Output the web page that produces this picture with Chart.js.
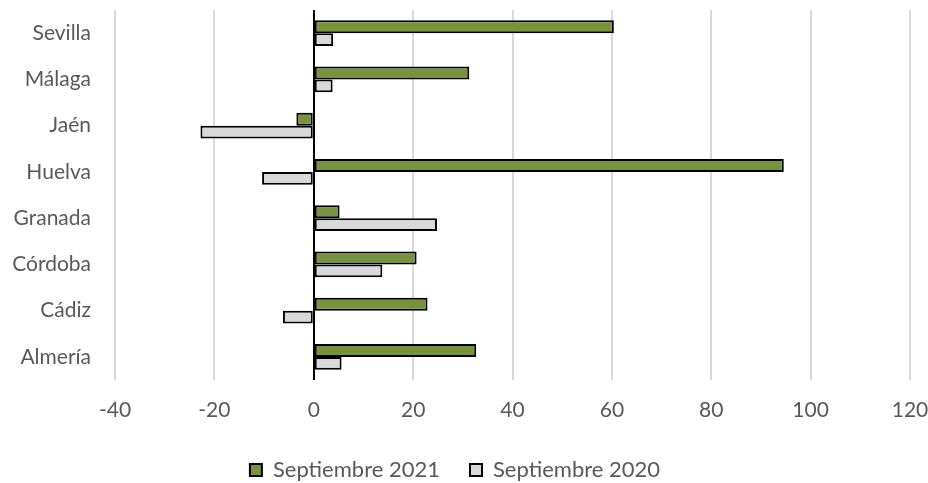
<!DOCTYPE html>
<html>
<head>
<meta charset="utf-8">
<script src="https://cdn.jsdelivr.net/npm/chart.js@4"></script>
<style>
  html, body { margin: 0; padding: 0; background: #fff; }
  #wrap { width: 928px; height: 483px; }
</style>
</head>
<body>
<div id="wrap"><canvas id="chart"></canvas></div>
<script>
const provinces = ["Sevilla", "Málaga", "Jaén", "Huelva", "Granada", "Córdoba", "Cádiz", "Almería"];
const sep2021 = [60.4, 31.3, -3.5, 94.6, 5.2, 20.7, 22.9, 32.7];
const sep2020 = [3.9, 3.8, -22.8, -10.4, 24.8, 13.8, -6.2, 5.6];
const xTicks = [-40, -20, 0, 20, 40, 60, 80, 100, 120];

const FONT = "Lato";
const TEXT = "#595959";
const SIZE = 21;

const ctx = document.getElementById("chart").getContext("2d");

new Chart(ctx, {
  type: "bar",
  data: {
    labels: provinces,
    datasets: [
      {
        label: "Septiembre 2021",
        data: sep2021,
        backgroundColor: "#77933C",
        borderColor: "#000",
        borderWidth: 2,
        borderSkipped: false
      },
      {
        label: "Septiembre 2020",
        data: sep2020,
        backgroundColor: "#D9D9D9",
        borderColor: "#000",
        borderWidth: 2,
        borderSkipped: false
      }
    ]
  },
  options: {
    indexAxis: "y",
    responsive: true,
    maintainAspectRatio: false,
    animation: false,
    datasets: { bar: { barPercentage: 1, categoryPercentage: 0.56 } },
    layout: { padding: { top: 10, right: 18, bottom: -8, left: 0 } },
    scales: {
      x: {
        min: xTicks[0],
        max: xTicks[xTicks.length - 1],
        afterBuildTicks: scale => { scale.ticks = xTicks.map(v => ({ value: v })); },
        border: { display: false },
        grid: {
          drawTicks: false,
          lineWidth: 2,
          color: c => (c.tick && c.tick.value === 0) ? "#000" : "#D9D9D9"
        },
        ticks: { color: TEXT, font: { family: FONT, size: SIZE }, padding: 18 },
        afterFit: scale => {
          scale.height = 49;
          scale.paddingLeft = 0;
          scale.paddingRight = 0;
        }
      },
      y: {
        border: { display: false },
        grid: { display: false, drawTicks: false },
        ticks: { color: TEXT, font: { family: FONT, size: SIZE }, padding: 24 },
        afterFit: scale => {
          scale.width = 115;
          scale.paddingTop = 0;
          scale.paddingBottom = 0;
        }
      }
    },
    plugins: {
      legend: {
        position: "bottom",
        labels: {
          color: TEXT,
          font: { family: FONT, size: 22 },
          boxWidth: 12,
          boxHeight: 12,
          padding: 30
        }
      },
      tooltip: { enabled: false }
    }
  }
});
</script>
</body>
</html>
